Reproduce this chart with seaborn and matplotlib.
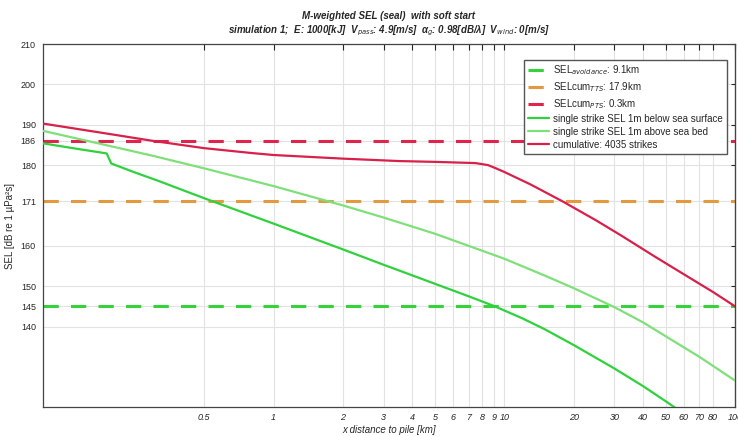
import numpy as np
import pandas as pd
import matplotlib
matplotlib.use("Agg")
import matplotlib.pyplot as plt
import seaborn as sns

# thresholds (dB) and the range where each is crossed
thr_labels = ["SEL$_{avoidance}$: 9.1km", "SELcum$_{TTS}$: 17.9km", "SELcum$_{PTS}$: 0.3km"]
thr_values = [145, 171, 186]
thr_colors = ["#35d23a", "#e39a3e", "#e0244c"]

# single strike, 1 m below sea surface
dist_surf = [0.1, 0.142, 0.189, 0.193, 0.198, 0.25, 0.32, 0.5, 1, 2, 3, 5, 7, 9.1, 12, 15, 20,
             30, 40, 50, 60]
sel_surf = [185.4, 184.0, 182.9, 181.8, 180.4, 178.2, 176.0, 171.8, 165.5, 159.1, 155.3, 150.6,
            147.5, 145.0, 142.0, 139.3, 135.4, 129.6, 125.2, 121.5, 118.4]

# single strike, 1 m above sea bed
dist_bed = [0.1, 0.2, 0.3, 0.5, 1, 2, 3, 5, 7, 10, 15, 20, 30, 40, 50, 70, 100]
sel_bed = [188.5, 184.6, 182.3, 179.2, 174.8, 170.0, 167.0, 163.0, 160.0, 156.8, 152.6, 149.5,
           144.8, 141.0, 137.6, 132.5, 126.6]

# cumulative, 4035 strikes
dist_cum = [0.1, 0.2, 0.3, 0.5, 0.8, 1, 2, 3.5, 5, 7.5, 8.5, 9.2, 10, 13, 17.9, 25, 32, 45, 59,
            80, 100]
sel_cum = [190.3, 187.6, 186.0, 184.2, 183.0, 182.5, 181.6, 181.0, 180.8, 180.5, 180.0, 179.2,
           178.3, 175.2, 171.0, 166.3, 162.6, 157.3, 153.2, 148.6, 145.0]

curve_labels = ["single strike SEL 1m below sea surface", "single strike SEL 1m above sea bed",
                "cumulative: 4035 strikes"]
curve_colors = ["#2fd23c", "#7fe07a", "#d8204a"]

xticks = [0.5, 1, 2, 3, 4, 5, 6, 7, 8, 9, 10, 20, 30, 40, 50, 60, 70, 80, 100]
xticklabels = ["0.5", "1", "2", "3", "4", "5", "6", "7", "8", "9", "10",
               "20", "30", "40", "50", "60", "70", "80", "100"]
yticks = [140, 145, 150, 160, 171, 180, 186, 190, 200, 210]

sns.set_style("white")
plt.rcParams["font.family"] = ["Liberation Sans", "DejaVu Sans"]

curves = pd.concat([
    pd.DataFrame({"dist": dist_surf, "sel": sel_surf, "curve": curve_labels[0]}),
    pd.DataFrame({"dist": dist_bed, "sel": sel_bed, "curve": curve_labels[1]}),
    pd.DataFrame({"dist": dist_cum, "sel": sel_cum, "curve": curve_labels[2]}),
])

fig = plt.figure(figsize=(7.38, 4.36), dpi=100)
ax = fig.add_axes([0.058, 0.066, 0.938, 0.833])
ax.set_xscale("log")

for x in xticks:
    ax.axvline(x, color="#e2e2e2", lw=0.8, zorder=0)
for y in yticks:
    ax.axhline(y, color="#e2e2e2", lw=0.8, zorder=0)

handles = []
for lab, val, col in zip(thr_labels, thr_values, thr_colors):
    h = ax.axhline(val, color=col, lw=2.2, dashes=(5, 4), label=lab, zorder=2)
    handles.append(h)

sns.lineplot(data=curves, x="dist", y="sel", hue="curve", palette=curve_colors,
             hue_order=curve_labels, sort=False, estimator=None, lw=1.6, ax=ax, zorder=3)
handles += list(ax.get_lines()[-3:])

ax.set_xlim(0.1, 100)
ax.set_ylim(120, 210)
ax.set_xticks(xticks)
ax.set_xticklabels(xticklabels, fontsize=6.5, style="italic")
ax.minorticks_off()
ax.set_yticks(yticks)
ax.set_yticklabels([str(v) for v in yticks], fontsize=6.5)
ax.tick_params(axis="x", direction="in", top=True, length=4, pad=4)
ax.tick_params(axis="y", direction="out", length=3, pad=2)
sec = ax.secondary_yaxis("right")
sec.set_yticks(yticks)
sec.tick_params(direction="in", length=3, labelright=False)

for s in ax.spines.values():
    s.set_color("#444444")
    s.set_linewidth(0.9)

ax.set_xlabel("x distance to pile [km]", fontsize=7, style="italic", labelpad=2)
ax.set_ylabel("SEL [dB re 1 µPa²s]", fontsize=7, labelpad=4)
ax.set_title("M-weighted SEL (seal)  with soft start\n"
             "simulation 1;  E: 1000[kJ]  V$_{pass}$: 4.9[m/s]  α$_{g}$: 0.98[dB/λ]  V$_{wind}$: 0[m/s]",
             fontsize=7, style="italic", fontweight="bold", pad=8)

ax.legend(handles=handles, labels=thr_labels + curve_labels, loc="upper right",
          bbox_to_anchor=(0.995, 0.97), fontsize=7, frameon=True, fancybox=False,
          edgecolor="#555555", handlelength=2.2, handletextpad=0.4, labelspacing=0.3,
          borderpad=0.4, framealpha=1)

fig.savefig("out.png", dpi=100)
